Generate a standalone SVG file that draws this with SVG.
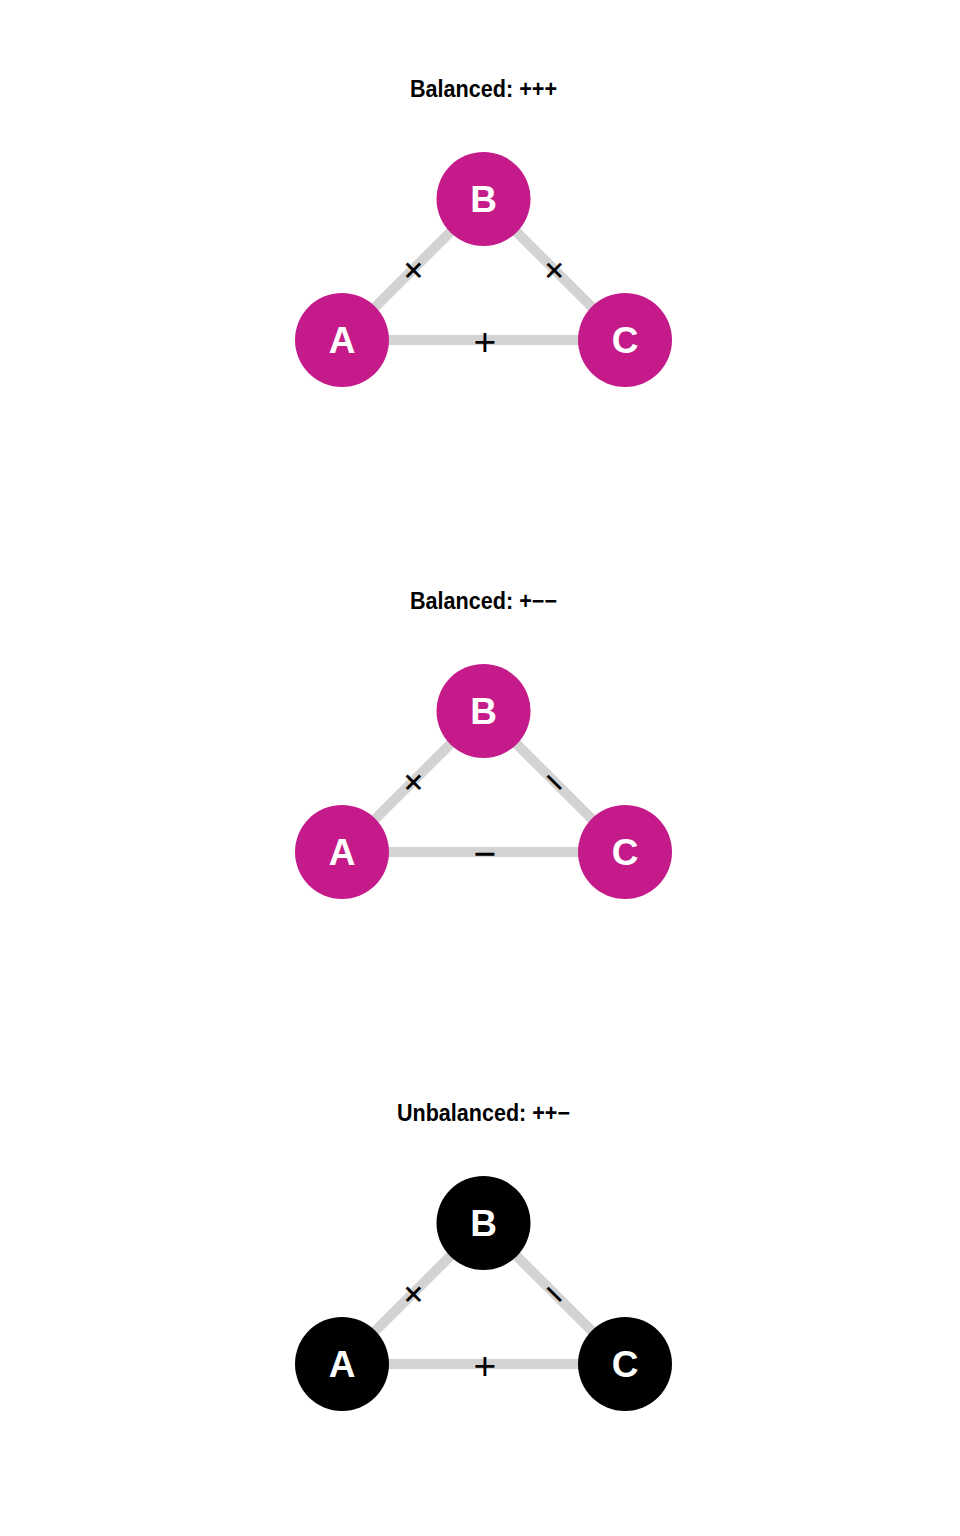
<svg xmlns="http://www.w3.org/2000/svg" width="960" height="1536" viewBox="0 0 960 1536">
<style>
.title{font-family:"Liberation Sans",Arial,sans-serif;font-weight:bold;font-size:24px;fill:#000;text-anchor:middle}
.edge{stroke:#d3d3d3;stroke-width:10;fill:none}
.el{font-family:"Liberation Sans",Arial,sans-serif;font-size:39px;fill:#000;text-anchor:middle;dominant-baseline:central}
.node circle{stroke:none}
.pink circle{fill:#c51b8a}
.black circle{fill:#000}
.nl{font-family:"Liberation Sans",Arial,sans-serif;font-weight:bold;font-size:37px;fill:#fff;text-anchor:middle}
</style>
<rect width="960" height="1536" fill="#fff"/>
<text class="title" x="483.5" y="97" textLength="147" lengthAdjust="spacingAndGlyphs">Balanced: +++</text>
<text class="title" x="483.5" y="609" textLength="147" lengthAdjust="spacingAndGlyphs">Balanced: +−−</text>
<text class="title" x="483.5" y="1121" textLength="173" lengthAdjust="spacingAndGlyphs">Unbalanced: ++−</text>
<g id="connectors">
<g id="p1-edges">
<line class="edge" x1="342" y1="340" x2="483.5" y2="199"/>
<line class="edge" x1="483.5" y1="199" x2="625" y2="340"/>
<line class="edge" x1="342" y1="340" x2="625" y2="340"/>
<text class="el" transform="translate(413,270) rotate(-45)">+</text>
<text class="el" transform="translate(554.5,270) rotate(45)">+</text>
<text class="el" transform="translate(485,341)">+</text>
</g>
<g id="p2-edges">
<line class="edge" x1="342" y1="852" x2="483.5" y2="711"/>
<line class="edge" x1="483.5" y1="711" x2="625" y2="852"/>
<line class="edge" x1="342" y1="852" x2="625" y2="852"/>
<text class="el" transform="translate(413,782) rotate(-45)">+</text>
<text class="el" transform="translate(554.5,782) rotate(45)">−</text>
<text class="el" transform="translate(485,853)">−</text>
</g>
<g id="p3-edges">
<line class="edge" x1="342" y1="1364" x2="483.5" y2="1223"/>
<line class="edge" x1="483.5" y1="1223" x2="625" y2="1364"/>
<line class="edge" x1="342" y1="1364" x2="625" y2="1364"/>
<text class="el" transform="translate(413,1294) rotate(-45)">+</text>
<text class="el" transform="translate(554.5,1294) rotate(45)">−</text>
<text class="el" transform="translate(485,1365)">+</text>
</g>
</g>
<g id="p1-A" class="node pink"><circle cx="342" cy="340" r="47"/><text class="nl" x="342" y="353">A</text></g>
<g id="p1-B" class="node pink"><circle cx="483.5" cy="199" r="47"/><text class="nl" x="483.5" y="212">B</text></g>
<g id="p1-C" class="node pink"><circle cx="625" cy="340" r="47"/><text class="nl" x="625" y="353">C</text></g>
<g id="p2-A" class="node pink"><circle cx="342" cy="852" r="47"/><text class="nl" x="342" y="865">A</text></g>
<g id="p2-B" class="node pink"><circle cx="483.5" cy="711" r="47"/><text class="nl" x="483.5" y="724">B</text></g>
<g id="p2-C" class="node pink"><circle cx="625" cy="852" r="47"/><text class="nl" x="625" y="865">C</text></g>
<g id="p3-A" class="node black"><circle cx="342" cy="1364" r="47"/><text class="nl" x="342" y="1377">A</text></g>
<g id="p3-B" class="node black"><circle cx="483.5" cy="1223" r="47"/><text class="nl" x="483.5" y="1236">B</text></g>
<g id="p3-C" class="node black"><circle cx="625" cy="1364" r="47"/><text class="nl" x="625" y="1377">C</text></g>
</svg>
